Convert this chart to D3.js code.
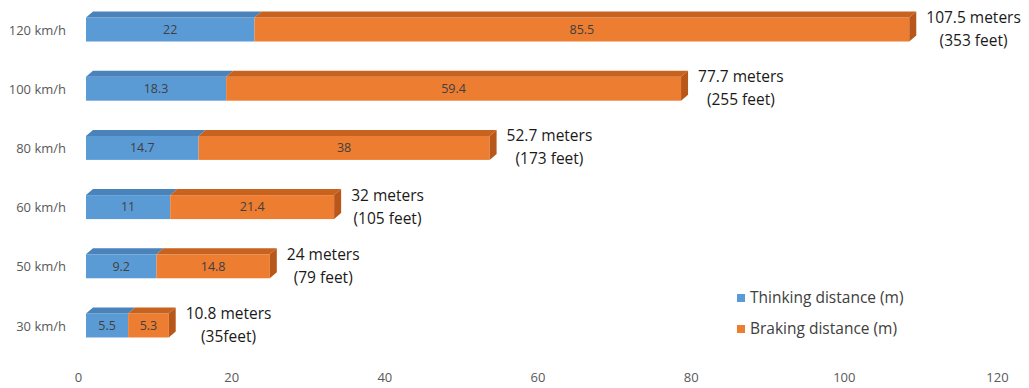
<!DOCTYPE html>
<html>
<head>
<meta charset="utf-8">
<script src="https://cdn.jsdelivr.net/npm/d3@7"></script>
<style>
	body { margin: 0; background: #fff; }
	.tick-label { font-family: "Open Sans", sans-serif; font-size: 13px; fill: #595959; }
	.val-label { font-family: "Open Sans", sans-serif; font-size: 12.5px; fill: #404040; }
	.total-label { font-family: "Open Sans", sans-serif; font-size: 15.5px; fill: #1a1a1a; }
	.legend-label { font-family: "Open Sans", sans-serif; font-size: 15.5px; fill: #404040; }
</style>
</head>
<body>
<div id="chart"></div>
<script>
// data
const speeds = ['120 km/h', '100 km/h', '80 km/h', '60 km/h', '50 km/h', '30 km/h'];
const thinking = [22, 18.3, 14.7, 11, 9.2, 5.5];
const braking = [85.5, 59.4, 38, 21.4, 14.8, 5.3];
const totalMeters = ['107.5 meters', '77.7 meters', '52.7 meters', '32 meters', '24 meters', '10.8 meters'];
const totalFeet = ['(353 feet)', '(255 feet)', '(173 feet)', '(105 feet)', '(79 feet)', '(35feet)'];
const xTicks = [0, 20, 40, 60, 80, 100, 120];
const seriesNames = ['Thinking distance (m)', 'Braking distance (m)'];

const width = 1029, height = 388;
const colors = {
	front: ['#5b9bd5', '#ed7d31'],
	top: ['#4a82ba', '#c8621f'],
	side: ['#b9561a']
};
const dx = 7, dy = 6;

const svg = d3.select('#chart').append('svg')
	.attr('width', width)
	.attr('height', height);

const x = d3.scaleLinear().domain([0, 120]).range([86, 1005]);
const y = d3.scaleBand().domain(speeds).range([0, 355])
	.paddingInner(0.595).paddingOuter(0.296);

// x axis labels (Excel 3d puts them a bit left of the bar front)
const xAxis = svg.append('g')
	.attr('transform', 'translate(-8,' + 377 + ')')
	.call(d3.axisBottom(x).tickValues(xTicks).tickSize(0).tickPadding(0));
xAxis.select('.domain').remove();
xAxis.selectAll('text').attr('class', 'tick-label').attr('dy', '0.35em').attr('fill', null);

// y axis labels
const yAxis = svg.append('g')
	.attr('transform', 'translate(66,0)')
	.call(d3.axisLeft(y).tickSize(0).tickPadding(0));
yAxis.select('.domain').remove();
yAxis.selectAll('text').attr('class', 'tick-label').attr('fill', null).attr('dy', '0.4em');

const rows = speeds.map((s, i) => ({
	speed: s,
	segs: [[0, thinking[i]], [thinking[i], thinking[i] + braking[i]]],
	vals: [thinking[i], braking[i]],
	total: thinking[i] + braking[i],
	meters: totalMeters[i],
	feet: totalFeet[i]
}));

const g = svg.append('g');
const h = y.bandwidth();

rows.forEach(r => {
	const y0 = y(r.speed);
	r.segs.forEach((seg, k) => {
		const x0 = x(seg[0]), x1 = x(seg[1]);
		g.append('rect')
			.attr('x', x0).attr('y', y0)
			.attr('width', x1 - x0).attr('height', h)
			.attr('fill', colors.front[k]);
		g.append('polygon')
			.attr('points', [[x0, y0], [x0 + dx, y0 - dy], [x1 + dx, y0 - dy], [x1, y0]].join(' '))
			.attr('fill', colors.top[k]);
		g.append('text')
			.attr('class', 'val-label')
			.attr('x', (x0 + x1) / 2)
			.attr('y', y0 + h / 2)
			.attr('dy', '0.35em')
			.attr('text-anchor', 'middle')
			.text(r.vals[k]);
	});
	const xe = x(r.total);
	g.append('polygon')
		.attr('points', [[xe, y0], [xe + dx, y0 - dy], [xe + dx, y0 + h - dy], [xe, y0 + h]].join(' '))
		.attr('fill', colors.side[0]);

	// total label, two lines centred on each other
	const lbl = g.append('g');
	const t1 = lbl.append('text').attr('class', 'total-label')
		.attr('y', y0 + h / 2 - 12).attr('dy', '0.35em')
		.attr('text-anchor', 'middle').text(r.meters);
	const w = t1.node().getComputedTextLength();
	const cx = xe + dx + 10 + w / 2;
	t1.attr('x', cx);
	lbl.append('text').attr('class', 'total-label')
		.attr('x', cx)
		.attr('y', y0 + h / 2 + 11).attr('dy', '0.35em')
		.attr('text-anchor', 'middle').text(r.feet);
});

// legend
const legend = svg.append('g').attr('transform', 'translate(737,298)');
seriesNames.forEach((name, i) => {
	const lg = legend.append('g').attr('transform', 'translate(0,' + i * 31 + ')');
	lg.append('rect').attr('x', 0).attr('y', -4).attr('width', 8).attr('height', 8)
		.attr('fill', colors.front[i]);
	lg.append('text').attr('class', 'legend-label')
		.attr('x', 13).attr('y', 0).attr('dy', '0.35em').text(name);
});
</script>
</body>
</html>
